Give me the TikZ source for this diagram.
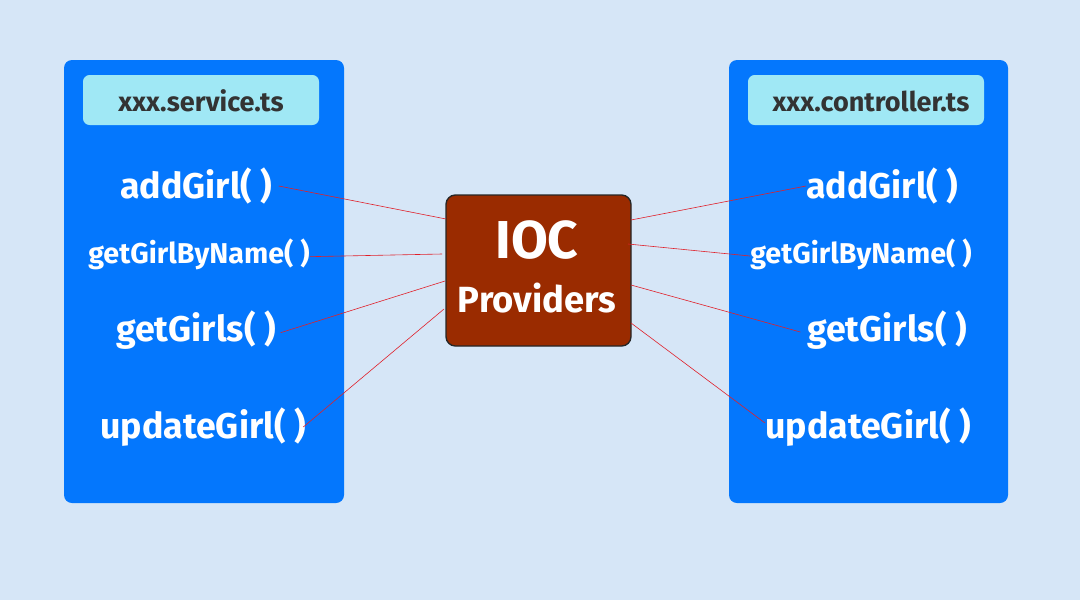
\documentclass[tikz,border=0pt]{standalone}
\usepackage{fontspec}
\setmainfont{Fira Sans}
\definecolor{bgc}{HTML}{D6E6F7}
\definecolor{panel}{HTML}{0477FD}
\definecolor{head}{HTML}{A0E8F5}
\definecolor{headtxt}{HTML}{333333}
\definecolor{core}{HTML}{9A2B00}
\definecolor{link}{HTML}{E0202A}
\tikzset{
  panelbox/.style={fill=panel, draw=none, rounded corners=6pt},
  headbox/.style={fill=head, draw=none, rounded corners=5pt},
  headtext/.style={text=headtxt, font=\bfseries\fontsize{20.3}{24}\selectfont, inner sep=0pt},
  bigitem/.style={text=white, font=\bfseries\fontsize{26.8}{30}\selectfont, inner sep=0pt},
  smallitem/.style={text=white, font=\bfseries\fontsize{21.5}{25}\selectfont, inner sep=0pt},
  corebox/.style={fill=core, draw=black!85, line width=1pt, rounded corners=7pt},
  linkline/.style={draw=link, line width=0.45pt}
}
\begin{document}
\begin{tikzpicture}[x=0.75pt,y=-0.75pt]
\fill[bgc] (0,0) rectangle (1080,600);
\useasboundingbox (0,0) rectangle (1080,600);
% panels
\path[panelbox] (64,60) rectangle (344,503);
\path[panelbox] (729,60) rectangle (1008,503);
\path[headbox] (83,75) rectangle (319,125);
\path[headbox] (748,75) rectangle (984,125);
\node[headtext] (lh) at (201,101) {xxx.service.ts};
\node[headtext] (rh) at (871,101) {xxx.controller.ts};
% core
\path[corebox] (446,195) rectangle (631,346);
\node[text=white, font=\bfseries\fontsize{40}{46}\selectfont, inner sep=0pt] (ioc) at (537,240) {IOC};
\node[text=white, font=\bfseries\fontsize{27.3}{31}\selectfont, inner sep=0pt] (prov) at (537,298) {Providers};
% left items
\node[bigitem, anchor=west] (la) at (120,186) {addGirl( )};
\node[smallitem, anchor=west] (lb) at (88,254) {getGirlByName( )};
\node[bigitem, anchor=west] (lc) at (116,330) {getGirls( )};
\node[bigitem, anchor=west] (ld) at (100,427) {updateGirl( )};
% right items
\node[bigitem, anchor=west] (ra) at (806,186) {addGirl( )};
\node[smallitem, anchor=west] (rb) at (750,254) {getGirlByName( )};
\node[bigitem, anchor=west] (rc) at (807,330) {getGirls( )};
\node[bigitem, anchor=west] (rd) at (765,427) {updateGirl( )};
% connector end points on the core box
\coordinate (cl1) at (446,219);
\coordinate (cl2) at (442,254);
\coordinate (cl3) at (445,281);
\coordinate (cl4) at (444,309);
\coordinate (cr1) at (631,220);
\coordinate (cr2) at (628,244);
\coordinate (cr3) at (631,285);
\coordinate (cr4) at (631,323);
% connectors
\draw[linkline] ([xshift=4.5pt]la.east) -- (cl1);
\draw[linkline] ([yshift=-2pt]lb.east) -- (cl2);
\draw[linkline] ([xshift=3.5pt,yshift=-2pt]lc.east) -- (cl3);
\draw[linkline] ([xshift=-2pt]ld.east) -- (cl4);
\draw[linkline] (cr1) -- (ra.west);
\draw[linkline] (cr2) -- ([yshift=-1.5pt]rb.west);
\draw[linkline] (cr3) -- ([xshift=-5pt,yshift=-1.5pt]rc.west);
\draw[linkline] (cr4) -- ([yshift=3pt]rd.west);
\end{tikzpicture}
\end{document}
